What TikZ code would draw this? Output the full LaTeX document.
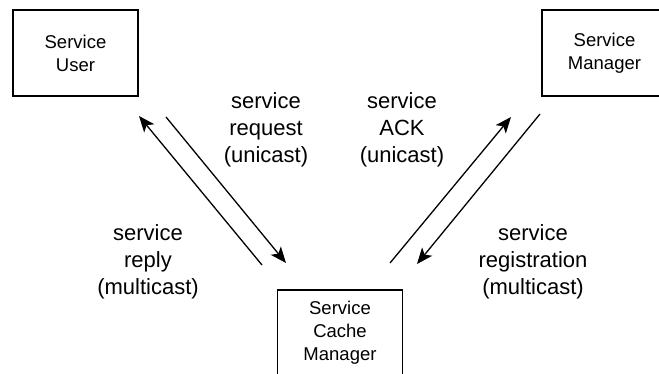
\documentclass[tikz,border=0pt]{standalone}
\usepackage{fontspec}
\setmainfont{Liberation Sans}
\usetikzlibrary{arrows.meta}
\begin{document}
\begin{tikzpicture}[x=1pt,y=-1pt,
  box/.style={draw,line width=1.3pt,minimum width=125pt,minimum height=86pt,
    align=center,font=\fontsize{18.5}{23}\selectfont},
  msg/.style={align=center,font=\fontsize{22}{27}\selectfont},
  flow/.style={line width=1.3pt,-{Stealth[length=16pt,width=13pt,inset=4pt]}}]
\useasboundingbox (0,0) rectangle (659,374);
\node[box] (user) at (75.5,53) {Service\\User};
\node[box] (mgr) at (604.5,53) {Service\\Manager};
\node[box] (cache) at (340,333) {Service\\Cache\\Manager};
% end points of the message arrows
\coordinate (replyA) at (262,265);
\coordinate (replyB) at (139,116);
\coordinate (reqA) at (166,117);
\coordinate (reqB) at (286,263);
\coordinate (ackA) at (390,263);
\coordinate (ackB) at (511,117);
\coordinate (regA) at (540,114);
\coordinate (regB) at (417,264);
\draw[flow] (replyA) -- (replyB);
\draw[flow] (reqA) -- (reqB);
\draw[flow] (ackA) -- (ackB);
\draw[flow] (regA) -- (regB);
\node[msg] (request) at (266,130) {service\\request\\(unicast)};
\node[msg] (ack) at (402,130) {service\\ACK\\(unicast)};
\node[msg] (reply) at (148,262) {service\\reply\\(multicast)};
\node[msg] (reg) at (533,262) {service\\registration\\(multicast)};
\end{tikzpicture}
\end{document}
